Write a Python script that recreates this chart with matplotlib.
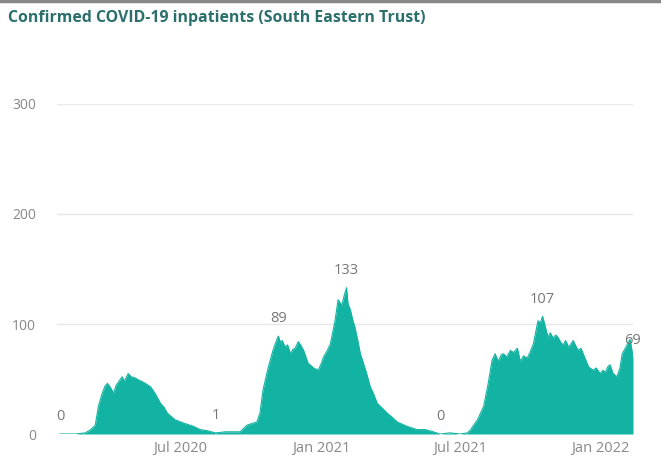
import matplotlib
matplotlib.use("Agg")
import matplotlib.pyplot as plt
import pandas as pd

# valeurs (patients hospitalisés, South Eastern Trust)
dates = [
    "2020-01-26", "2020-02-15", "2020-02-28", "2020-03-06", "2020-03-12", "2020-03-16",
    "2020-03-21", "2020-03-25", "2020-03-28", "2020-04-01", "2020-04-05", "2020-04-08",
    "2020-04-11", "2020-04-16", "2020-04-19", "2020-04-24", "2020-04-28", "2020-05-03",
    "2020-05-08", "2020-05-14", "2020-05-23", "2020-05-29", "2020-06-05", "2020-06-10",
    "2020-06-14", "2020-06-24", "2020-07-05", "2020-07-18", "2020-07-27", "2020-08-05",
    "2020-08-16", "2020-08-29", "2020-09-11", "2020-09-17", "2020-09-26", "2020-10-09",
    "2020-10-13", "2020-10-17", "2020-10-24", "2020-10-30", "2020-11-03", "2020-11-06",
    "2020-11-09", "2020-11-11", "2020-11-15", "2020-11-18", "2020-11-22", "2020-11-25",
    "2020-11-28", "2020-12-02", "2020-12-05", "2020-12-09", "2020-12-12", "2020-12-15",
    "2020-12-19", "2020-12-22", "2020-12-28", "2021-01-01", "2021-01-04", "2021-01-09",
    "2021-01-13", "2021-01-19", "2021-01-23", "2021-01-28", "2021-01-31", "2021-02-03",
    "2021-02-05", "2021-02-08", "2021-02-11", "2021-02-14", "2021-02-18", "2021-02-21",
    "2021-02-28", "2021-03-06", "2021-03-10", "2021-03-15", "2021-03-21", "2021-03-28",
    "2021-04-04", "2021-04-10", "2021-04-23", "2021-05-06", "2021-05-17", "2021-05-27",
    "2021-06-05", "2021-06-18", "2021-07-01", "2021-07-11", "2021-07-15", "2021-07-24",
    "2021-08-01", "2021-08-07", "2021-08-12", "2021-08-16", "2021-08-20", "2021-08-24",
    "2021-08-27", "2021-08-31", "2021-09-05", "2021-09-09", "2021-09-14", "2021-09-18",
    "2021-09-22", "2021-09-27", "2021-10-01", "2021-10-05", "2021-10-11", "2021-10-14",
    "2021-10-17", "2021-10-20", "2021-10-24", "2021-10-27", "2021-10-31", "2021-11-03",
    "2021-11-06", "2021-11-10", "2021-11-13", "2021-11-16", "2021-11-20", "2021-11-23",
    "2021-11-26", "2021-11-30", "2021-12-03", "2021-12-06", "2021-12-09", "2021-12-13",
    "2021-12-16", "2021-12-22", "2021-12-26", "2021-12-31", "2022-01-04", "2022-01-07",
    "2022-01-10", "2022-01-13", "2022-01-17", "2022-01-22", "2022-01-26", "2022-01-29",
    "2022-02-02", "2022-02-05", "2022-02-08", "2022-02-10", "2022-02-12",
]
patients = [
    0, 0, 1, 4, 8, 25,
    37, 44, 46, 42, 37, 44,
    47, 52, 48, 55, 52, 51,
    49, 47, 43, 37, 28, 24,
    19, 13, 10, 7, 4, 3,
    1, 2, 2, 2, 8, 11,
    19, 40, 61, 76, 84, 89,
    83, 85, 79, 81, 73, 77,
    78, 84, 81, 76, 70, 64,
    62, 60, 58, 64, 70, 76,
    82, 103, 122, 117, 126, 133,
    118, 113, 104, 97, 84, 73,
    58, 43, 37, 28, 24, 19,
    15, 11, 7, 4, 4, 2,
    0, 1, 0, 1, 4, 13,
    25, 46, 67, 73, 66, 72,
    73, 70, 76, 74, 78, 66,
    71, 69, 75, 82, 103, 101,
    107, 99, 88, 92, 87, 90,
    88, 83, 81, 85, 79, 82,
    85, 79, 76, 78, 73, 66,
    61, 58, 60, 55, 58, 56,
    61, 63, 55, 52, 60, 73,
    78, 82, 86, 79, 69,
]
# points étiquetés (indices dans la liste)
etiquettes = [0, 30, 41, 65, 84, 108, len(patients) - 1]

titre = "Confirmed COVID-19 inpatients (South Eastern Trust)"
ticks_x = ["2020-07-01", "2021-01-01", "2021-07-01", "2022-01-01"]
labels_x = ["Jul 2020", "Jan 2021", "Jul 2021", "Jan 2022"]

df = pd.DataFrame({"date": pd.to_datetime(dates), "n": patients})

plt.rcParams["font.family"] = ["Open Sans", "DejaVu Sans"]

fig = plt.figure(figsize=(6.61, 4.62), dpi=100)
ax = fig.add_axes([0.0862, 0.0606, 0.8714, 0.7143])

ax.fill_between(df["date"], df["n"], 0, color="#13b3a3", linewidth=0)
ax.plot(df["date"], df["n"], color="#13b3a3", linewidth=0.8)

for i in etiquettes:
    ax.annotate(str(patients[i]), (df["date"][i], patients[i]),
                xytext=(0, 7), textcoords="offset points",
                ha="center", va="bottom", fontsize=10.5, color="#777777")

ax.set_xlim(pd.Timestamp("2020-01-22"), pd.Timestamp("2022-02-12"))
ax.set_ylim(0, 300)
ax.set_yticks([0, 100, 200, 300])
ax.set_xticks(pd.to_datetime(ticks_x))
ax.set_xticklabels(labels_x)
ax.grid(axis="y", color="#e8e8e8", linewidth=1)
ax.set_axisbelow(True)
for s in ax.spines.values():
    s.set_visible(False)
ax.tick_params(length=0, labelcolor="#888888")
ax.tick_params(axis="y", pad=15, labelsize=10)
ax.tick_params(axis="x", pad=5, labelsize=10.5)

fig.text(0.012, 0.962, titre, fontsize=11.4, fontweight="bold",
         color="#2b6f6c", va="center", ha="left")
fig.add_artist(plt.Line2D([0, 1], [0.997, 0.997], color="#888888", linewidth=2.5))

fig.savefig("out.png", dpi=100)
